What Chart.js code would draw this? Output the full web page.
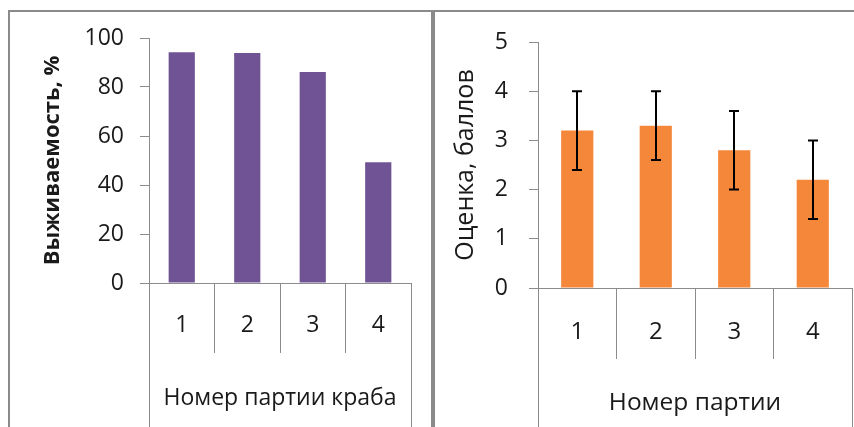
<!DOCTYPE html>
<html>
<head>
<meta charset="utf-8">
<script src="https://cdn.jsdelivr.net/npm/chart.js@4"></script>
<style>
  html, body { margin: 0; padding: 0; background: #fff; overflow: hidden; width: 854px; height: 427px; }
  .box { position: absolute; border: 2px solid #8a8a8a; overflow: hidden; }
  #boxA { left: 8px; top: 10px; width: 421px; height: 440px; }
  #boxB { left: 433px; top: 10px; width: 425px; height: 440px; }
</style>
</head>
<body>
<div class="box" id="boxA"><canvas id="survChart" width="421" height="440"></canvas></div>
<div class="box" id="boxB"><canvas id="scoreChart" width="425" height="440"></canvas></div>
<script>
// batch numbers (same for both charts)
const batches = ['1', '2', '3', '4'];

// left: survival, %
const survival = [94.2, 93.9, 86.1, 49.3];

// right: score with error
const score = [3.2, 3.3, 2.8, 2.2];
const scoreErr = [0.8, 0.7, 0.8, 0.8];

const FONT = 'Open Sans';
const TXT = '#1a1a1a';
const AXIS = '#8c8c8c';

// error bars drawn from the y scale
const errorBars = {
  id: 'errorBars',
  afterDatasetsDraw(chart, args, opts) {
    if (!opts.errors) return;
    const ctx = chart.ctx;
    const ys = chart.scales.y;
    const vals = chart.data.datasets[0].data;
    const meta = chart.getDatasetMeta(0);
    ctx.save();
    ctx.strokeStyle = '#000';
    ctx.lineWidth = 2;
    meta.data.forEach((bar, i) => {
      const x = Math.round(bar.x);
      const top = ys.getPixelForValue(vals[i] + opts.errors[i]);
      const bot = ys.getPixelForValue(vals[i] - opts.errors[i]);
      ctx.beginPath();
      ctx.moveTo(x, top); ctx.lineTo(x, bot);
      ctx.moveTo(x - 5, top); ctx.lineTo(x + 5, top);
      ctx.moveTo(x - 5, bot); ctx.lineTo(x + 5, bot);
      ctx.stroke();
    });
    ctx.restore();
  }
};

// outer lines of the category group box, down to the bottom
const groupBox = {
  id: 'groupBox',
  afterDraw(chart) {
    const ctx = chart.ctx;
    const a = chart.chartArea;
    ctx.save();
    ctx.strokeStyle = AXIS;
    ctx.lineWidth = 1;
    ctx.beginPath();
    [a.left, a.right].forEach(x => {
      const px = Math.round(x) + 0.5;
      ctx.moveTo(px, a.bottom);
      ctx.lineTo(px, chart.height);
    });
    ctx.stroke();
    ctx.restore();
  }
};

function makeChart(id, cfg) {
  return new Chart(id, {
    type: 'bar',
    data: {
      labels: batches,
      datasets: [{
        data: cfg.values,
        backgroundColor: cfg.color,
        categoryPercentage: 1,
        barPercentage: cfg.barPct
      }]
    },
    plugins: [errorBars, groupBox],
    options: {
      responsive: false,
      animation: false,
      devicePixelRatio: 1,
      layout: { padding: { top: cfg.top, right: cfg.right, left: 0, bottom: 0 } },
      plugins: {
        legend: { display: false },
        tooltip: { enabled: false },
        errorBars: { errors: cfg.errors }
      },
      scales: {
        x: {
          afterFit: s => { s.height = cfg.xHeight; },
          grid: { offset: true, drawOnChartArea: false, tickLength: cfg.tickLen, color: AXIS },
          border: { color: AXIS },
          ticks: { color: TXT, font: { family: FONT, size: cfg.catSize }, padding: cfg.catPad },
          title: {
            display: true, text: cfg.xTitle, color: TXT,
            font: { family: FONT, size: cfg.xTitleSize },
            padding: { top: 0, bottom: cfg.xTitlePad }
          }
        },
        y: {
          min: 0, max: cfg.max,
          afterFit: s => { s.width = cfg.yWidth; s.paddingTop = 0; s.paddingBottom = 0; },
          grid: { drawOnChartArea: false, tickLength: 9, color: AXIS },
          border: { color: AXIS },
          ticks: { stepSize: cfg.step, color: TXT, font: { family: FONT, size: cfg.tickSize }, padding: cfg.yPad },
          title: {
            display: true, text: cfg.yTitle, color: TXT,
            font: { family: FONT, size: cfg.yTitleSize, weight: cfg.yTitleWeight },
            padding: { top: cfg.yTitlePad, bottom: 0 }
          }
        }
      }
    }
  });
}

makeChart('survChart', {
  values: survival, color: '#6F5395', barPct: 0.4, errors: null,
  top: 26, right: 20, xHeight: 169, yWidth: 139, max: 100, step: 20,
  tickLen: 70, tickSize: 23, catSize: 23, catPad: -41,
  xTitle: 'Номер партии краба', xTitleSize: 23, xTitlePad: 40,
  yPad: 16, yTitle: 'Выживаемость, %', yTitleSize: 22, yTitleWeight: 'bold', yTitlePad: 30
});

makeChart('scoreChart', {
  values: score, color: '#F5873A', barPct: 0.41, errors: scoreErr,
  top: 30, right: 8, xHeight: 164, yWidth: 103, max: 5, step: 1,
  tickLen: 71, tickSize: 23, catSize: 24, catPad: -41,
  xTitle: 'Номер партии', xTitleSize: 24.5, xTitlePad: 34,
  yPad: 21, yTitle: 'Оценка, баллов', yTitleSize: 25, yTitleWeight: 'normal', yTitlePad: 16
});
</script>
</body>
</html>
